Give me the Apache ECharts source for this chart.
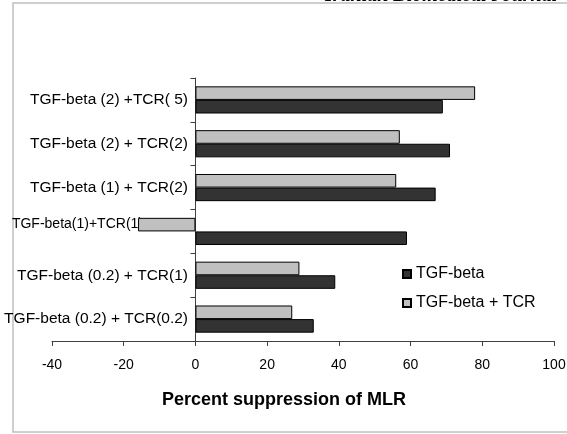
<!DOCTYPE html>
<html><head><meta charset="utf-8">
<script src="https://cdn.jsdelivr.net/npm/echarts@6/dist/echarts.min.js"></script>
<style>html,body{margin:0;padding:0;background:#fff}#c{width:567px;height:434px}</style>
</head><body><div id="c"></div>
<script>
const categories = [
  "TGF-beta (0.2) + TCR(0.2)",
  "TGF-beta (0.2) + TCR(1)",
  "TGF-beta(1)+TCR(1)",
  "TGF-beta (1) + TCR(2)",
  "TGF-beta (2) + TCR(2)",
  "TGF-beta (2) +TCR( 5)"
];
const tgfBeta = [33, 39, 59, 67, 71, 69];
const tgfBetaTcr = [27, 29, -16, 56, 57, 78];
const seriesNames = ["TGF-beta", "TGF-beta + TCR"];
const xTicks = { min: -40, max: 100, interval: 20 };
const axisTitle = "Percent suppression of MLR";
const headerText = "Iranian Biomedical Journal";

const FONT = '"Liberation Sans", Arial, sans-serif';
const chart = echarts.init(document.getElementById('c'), null, { renderer: 'canvas' });
chart.setOption({
  animation: false,
  backgroundColor: '#fff',
  textStyle: { fontFamily: FONT, color: '#000' },
  graphic: [
    { type: 'rect', shape: { x: 13, y: 3, width: 600, height: 429 }, style: { fill: 'none', stroke: '#c0c0c0', lineWidth: 1.5 }, silent: true },
    { type: 'text', x: 325, y: -14, style: { text: headerText, font: 'italic bold 20px "Liberation Serif", "Times New Roman", serif', fill: '#000', verticalAlign: 'top' }, silent: true }
  ],
  grid: { left: 52, right: 13, top: 78, bottom: 93, containLabel: false, outerBoundsMode: 'none' },
  legend: {
    orient: 'vertical', left: 397, top: 261,
    itemWidth: 8, itemHeight: 8, itemGap: 13,
    textStyle: { fontFamily: FONT, fontSize: 16, color: '#000' },
    data: seriesNames.map(n => ({ name: n, icon: 'rect' }))
  },
  xAxis: {
    type: 'value', min: xTicks.min, max: xTicks.max, interval: xTicks.interval,
    splitLine: { show: false },
    axisLine: { show: true, onZero: false, lineStyle: { color: '#404040', width: 1 } },
    axisTick: { show: true, length: 5, lineStyle: { color: '#404040' } },
    axisLabel: { fontFamily: FONT, fontSize: 14, color: '#000', margin: 17 },
    name: axisTitle, nameLocation: 'middle', nameGap: 50,
    nameTextStyle: { fontFamily: FONT, fontSize: 18, fontWeight: 'bold', color: '#000', padding: [0, 38, 0, 0] }
  },
  yAxis: {
    type: 'category', data: categories,
    axisLine: { show: true, onZero: true, lineStyle: { color: '#404040', width: 1 } },
    axisTick: { show: true, length: 5, lineStyle: { color: '#404040' } },
    axisLabel: {
      fontFamily: FONT, fontSize: 15.5, color: '#000', margin: -136,
      formatter: v => v === "TGF-beta(1)+TCR(1)" ? '{s|' + v + '}' : v,
      rich: { s: { fontFamily: FONT, fontSize: 14, color: '#000', padding: [0, 45, 14, 0] } }
    }
  },
  series: [
    { name: seriesNames[1], type: 'bar', data: tgfBetaTcr, barGap: '0%', barCategoryGap: '38%',
      itemStyle: { color: '#c0c0c0', borderColor: '#000', borderWidth: 1 } },
    { name: seriesNames[0], type: 'bar', data: tgfBeta, barGap: '0%', barCategoryGap: '38%',
      itemStyle: { color: '#333333', borderColor: '#000', borderWidth: 1 } }
  ]
});
</script></body></html>
